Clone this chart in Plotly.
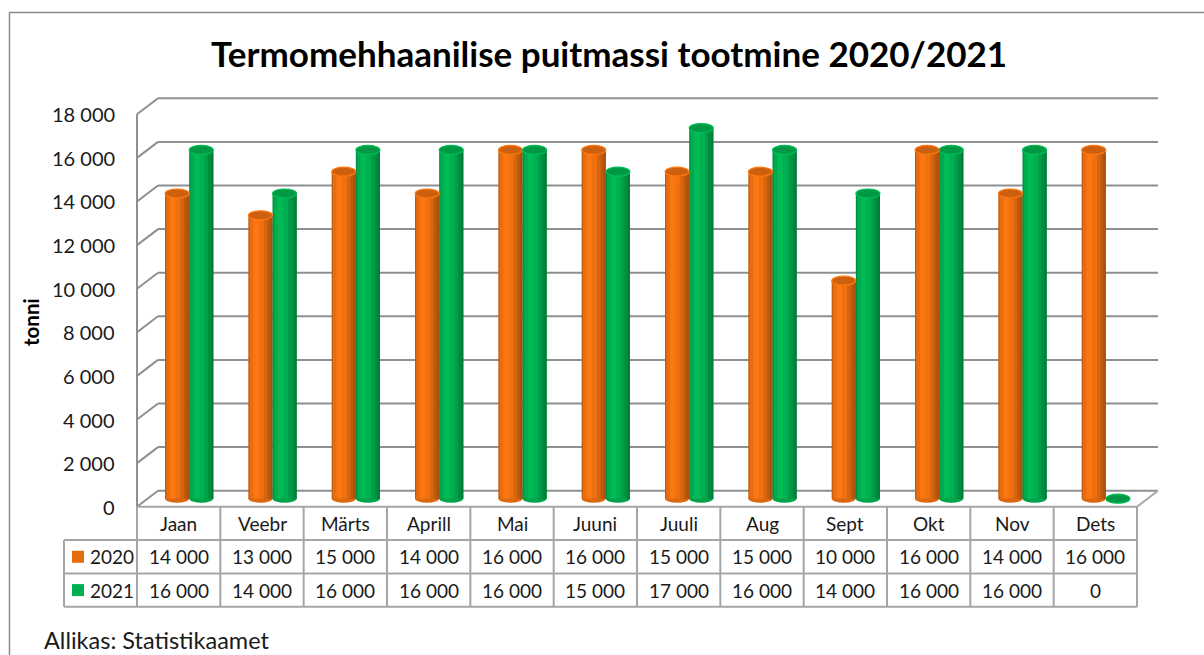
import plotly.graph_objects as go

# ---------------- data ----------------
months = ["Jaan", "Veebr", "Märts", "Aprill", "Mai", "Juuni", "Juuli", "Aug", "Sept", "Okt", "Nov", "Dets"]
series_names = ["2020", "2021"]
values_2020 = [14000, 13000, 15000, 14000, 16000, 16000, 15000, 15000, 10000, 16000, 14000, 16000]
values_2021 = [16000, 14000, 16000, 16000, 16000, 15000, 17000, 16000, 14000, 16000, 16000, 0]
y_ticks = [0, 2000, 4000, 6000, 8000, 10000, 12000, 14000, 16000, 18000]
title_text = "Termomehhaanilise puitmassi tootmine 2020/2021"
y_title = "tonni"
source_text = "Allikas: Statistikaamet"

# ---------------- geometry (pixels) ----------------
W, H = 1204, 655
YMAX = 18000
YLO = -500  # a little room below zero so the cylinder bottoms are not clipped
FX0, FX1, FY0, FY1 = 137, 1137, 506.7, 114.3      # front plane
BX0, BX1, BY0, BY1 = 158, 1158, 490.7, 98.3       # back wall
MX0, MX1, MY0, MY1 = 147.5, 1147.5, 498.7, 106.3  # bar plane (0 and 18000)
KPX = (MY0 - MY1) / YMAX                          # pixels per unit


def px(x):
    return x / W


def py(y):
    return 1 - y / H


FONT = "Lato"
ORANGE = (238, 112, 16)
GREEN = (0, 176, 80)
GRID = "#8f8f8f"
TLINE = "#a6a6a6"
TXT = "#1a1a1a"


def shade(rgb, m):
    r, g, b = [max(0, min(255, int(round(c * m)))) for c in rgb]
    return f"rgb({r},{g},{b})"


def fmt(v):
    return f"{v:,}".replace(",", " ")


def y_front(v):
    return FY0 + (FY1 - FY0) * v / YMAX


def y_back(v):
    return BY0 + (BY1 - BY0) * v / YMAX


idx = list(range(len(months)))
BARW = 0.29  # category units per cylinder

fig = go.Figure()

# cylinder shading strips: (start frac, end frac, multiplier)
profile = [(0.0, 1.0, 0.80), (0.05, 0.22, 0.97), (0.2, 0.46, 1.06), (0.44, 0.66, 1.0),
           (0.64, 0.8, 0.9), (0.78, 0.92, 0.8), (0.9, 1.0, 0.72)]

series = [(values_2020, ORANGE, -BARW), (values_2021, GREEN, 0.0)]
for vals, base, off in series:
    for f0, f1, m in profile:
        fig.add_trace(go.Bar(
            x=idx, y=vals, width=(f1 - f0) * BARW, offset=off + f0 * BARW,
            marker=dict(color=shade(base, m), line=dict(width=0)),
            showlegend=False, hoverinfo="skip"))

shapes = []
annotations = []

# cylinder caps (anchored on data coordinates)
for vals, base, off in series:
    for i, v in zip(idx, vals):
        cx = i + off + BARW / 2
        shapes.append(dict(type="circle", xref="x", yref="y", xsizemode="pixel", ysizemode="pixel",
                           xanchor=cx, yanchor=0, x0=-12, x1=12, y0=-4, y1=4,
                           fillcolor=shade(base, 0.92), line=dict(width=0), layer="below"))
        shapes.append(dict(type="circle", xref="x", yref="y", xsizemode="pixel", ysizemode="pixel",
                           xanchor=cx, yanchor=v, x0=-12, x1=12, y0=-4.5, y1=4.5,
                           fillcolor=shade(base, 0.86), line=dict(color=shade(base, 1.08), width=1.2),
                           layer="above"))

# back wall gridlines, side wall slants, front edge and floor
for t in y_ticks:
    shapes.append(dict(type="line", xref="paper", yref="paper", x0=px(BX0), x1=px(BX1),
                       y0=py(y_back(t)), y1=py(y_back(t)), line=dict(color=GRID, width=2), layer="below"))
    shapes.append(dict(type="line", xref="paper", yref="paper", x0=px(FX0), y0=py(y_front(t)),
                       x1=px(BX0), y1=py(y_back(t)), line=dict(color=GRID, width=2), layer="below"))
shapes.append(dict(type="line", xref="paper", yref="paper", x0=px(FX0), x1=px(FX0),
                   y0=py(y_front(0)), y1=py(y_front(YMAX)), line=dict(color=GRID, width=2), layer="below"))
shapes.append(dict(type="line", xref="paper", yref="paper", x0=px(FX1), y0=py(FY0), x1=px(BX1), y1=py(BY0),
                   line=dict(color=TLINE, width=2), layer="below"))

# y tick labels on the front edge
for t in y_ticks:
    annotations.append(dict(x=px(FX0 - 20), y=py(y_front(t)), xref="paper", yref="paper", text=fmt(t),
                            showarrow=False, font=dict(family=FONT, size=20, color=TXT),
                            xanchor="right", yanchor="middle"))

# data table
ROW = [FY0, 540.0, 573.5, 606.7]
LEG_X = 64
COLW = (FX1 - FX0) / len(months)
shapes.append(dict(type="line", xref="paper", yref="paper", x0=px(FX0), x1=px(FX1), y0=py(ROW[0]), y1=py(ROW[0]),
                   line=dict(color=TLINE, width=2)))
for r in ROW[1:]:
    shapes.append(dict(type="line", xref="paper", yref="paper", x0=px(LEG_X), x1=px(FX1), y0=py(r), y1=py(r),
                       line=dict(color=TLINE, width=2)))
for b in range(len(months) + 1):
    xb = FX0 + b * COLW
    shapes.append(dict(type="line", xref="paper", yref="paper", x0=px(xb), x1=px(xb), y0=py(ROW[0]), y1=py(ROW[3]),
                       line=dict(color=TLINE, width=2)))
shapes.append(dict(type="line", xref="paper", yref="paper", x0=px(LEG_X), x1=px(LEG_X), y0=py(ROW[1]), y1=py(ROW[3]),
                   line=dict(color=TLINE, width=2)))

tfont = dict(family=FONT, size=19, color=TXT)
for i, m in enumerate(months):
    annotations.append(dict(x=px(FX0 + (i + 0.5) * COLW), y=py((ROW[0] + ROW[1]) / 2), xref="paper", yref="paper",
                            text=m, showarrow=False, font=tfont, xanchor="center", yanchor="middle"))
for r, vals in enumerate([values_2020, values_2021]):
    yc = (ROW[r + 1] + ROW[r + 2]) / 2
    for i, v in enumerate(vals):
        annotations.append(dict(x=px(FX0 + (i + 0.5) * COLW), y=py(yc), xref="paper", yref="paper", text=fmt(v),
                                showarrow=False, font=tfont, xanchor="center", yanchor="middle"))

# legend keys inside the table
key_colors = ["#E46C0A", "#00B050"]
for r, (name, col) in enumerate(zip(series_names, key_colors)):
    yc = (ROW[r + 1] + ROW[r + 2]) / 2
    shapes.append(dict(type="rect", xref="paper", yref="paper", x0=px(72), x1=px(84), y0=py(yc - 6), y1=py(yc + 6),
                       fillcolor=col, line=dict(width=0)))
    annotations.append(dict(x=px(88), y=py(yc), xref="paper", yref="paper", text=name, showarrow=False,
                            font=tfont, xanchor="left", yanchor="middle"))

# outer frame
shapes.append(dict(type="rect", xref="paper", yref="paper", x0=px(9.5), y0=-0.1, x1=1.1, y1=py(12.5),
                   line=dict(color="#8a8a8a", width=1.5), fillcolor="rgba(0,0,0,0)", layer="below"))

# texts
annotations.append(dict(x=px(609), y=py(53), xref="paper", yref="paper", text=title_text, showarrow=False,
                        font=dict(family=FONT, size=35, color="black", weight="bold"),
                        xanchor="center", yanchor="middle"))
annotations.append(dict(x=px(31), y=py(322), xref="paper", yref="paper", text=y_title, showarrow=False,
                        textangle=-90, font=dict(family=FONT, size=20.5, color="black", weight="bold"),
                        xanchor="center", yanchor="middle"))
annotations.append(dict(x=px(42), y=py(640), xref="paper", yref="paper", text=source_text, showarrow=False,
                        font=dict(family=FONT, size=23.5, color=TXT), xanchor="left", yanchor="middle"))

ybot = MY0 + (0 - YLO) * KPX
fig.update_layout(
    width=W, height=H, autosize=False,
    margin=dict(l=0, r=0, t=0, b=0, pad=0, autoexpand=False),
    paper_bgcolor="white", plot_bgcolor="rgba(0,0,0,0)",
    barmode="overlay",
    showlegend=False,
    xaxis=dict(domain=[px(MX0), px(MX1)], range=[-0.5, 11.5], showgrid=False, zeroline=False,
               showline=False, showticklabels=False, ticks="", automargin=False, fixedrange=True),
    yaxis=dict(domain=[py(ybot), py(MY1)], range=[YLO, YMAX], showgrid=False, zeroline=False,
               showline=False, showticklabels=False, ticks="", automargin=False, fixedrange=True),
    shapes=shapes,
    annotations=annotations,
)

fig.write_html("out.html", config={"displayModeBar": False},
               post_script="document.body.style.margin='0px';")
